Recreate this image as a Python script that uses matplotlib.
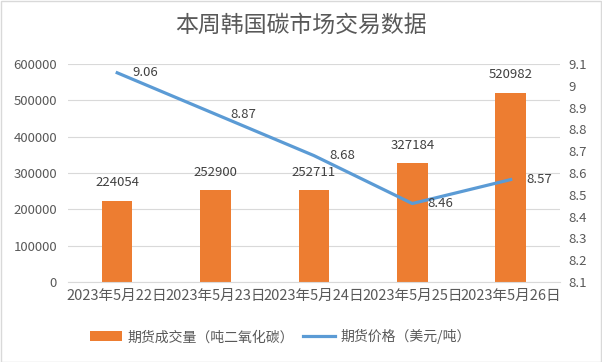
import numpy as np
import matplotlib.pyplot as plt
from matplotlib.patches import Rectangle

plt.rcParams['font.family'] = ['Noto Sans CJK SC', 'DejaVu Sans']

# ----- DATA -----
dates = ["2023年5月22日", "2023年5月23日", "2023年5月24日", "2023年5月25日", "2023年5月26日"]
volume = [224054, 252900, 252711, 327184, 520982]
price = [9.06, 8.87, 8.68, 8.46, 8.57]

bar_color = "#ED7D31"
line_color = "#5B9BD5"
text_color = "#595959"
label_color = "#404040"

fig = plt.figure(figsize=(6.02, 3.62), dpi=100)
fig.patches.append(Rectangle((0.001, 0.001), 0.997, 0.996, transform=fig.transFigure,
                             fill=False, edgecolor="#D9D9D9", linewidth=1))
ax = fig.add_axes([0.113, 0.221, 0.817, 0.602])
ax2 = ax.twinx()

x = np.arange(len(dates))
bars = ax.bar(x, volume, width=0.31, color=bar_color, zorder=2, label="期货成交量（吨二氧化碳）")
for xi, v in zip(x, volume):
    ax.annotate(str(v), (xi, v), xytext=(0, 13), textcoords="offset points",
                ha="center", va="center", fontsize=9.5, color=label_color)

ax.set_ylim(0, 600000)
ax.set_yticks(np.arange(0, 600001, 100000))
ax.set_xlim(-0.5, len(dates) - 0.5)
ax.set_xticks(x)
ax.set_xticklabels(dates)
ax.grid(axis="y", color="#D9D9D9", linewidth=0.8, zorder=0)
ax.set_axisbelow(True)

line, = ax2.plot(x, price, color=line_color, linewidth=2.3, zorder=3, label="期货价格（美元/吨）")
for xi, p in zip(x, price):
    ax2.annotate(f"{p:.2f}", (xi, p), xytext=(11, 0), textcoords="offset points",
                 ha="left", va="center", fontsize=9.5, color=label_color)
rticks = np.round(np.arange(8.1, 9.11, 0.1), 1)
ax2.set_ylim(8.1, 9.1)
ax2.set_yticks(rticks)
ax2.set_yticklabels([f"{v:g}" for v in rticks])

for a in (ax, ax2):
    for s in a.spines.values():
        s.set_visible(False)
    a.tick_params(length=0, labelsize=9.5, colors=text_color)
ax.spines["bottom"].set_visible(True)
ax.spines["bottom"].set_color("#D9D9D9")
ax.tick_params(axis="x", pad=5, labelsize=10.5)
ax.tick_params(axis="y", pad=8)
ax2.tick_params(axis="y", pad=6)

fig.text(0.5, 0.93, "本周韩国碳市场交易数据", ha="center", va="center", fontsize=16.5, color=text_color)

fig.legend(handles=[bars, line], loc="center", bbox_to_anchor=(0.466, 0.07), ncol=2, frameon=False,
           fontsize=10, labelcolor=text_color, handlelength=2.3, columnspacing=0.6, handletextpad=0.4)

plt.savefig("out.png", dpi=100)
